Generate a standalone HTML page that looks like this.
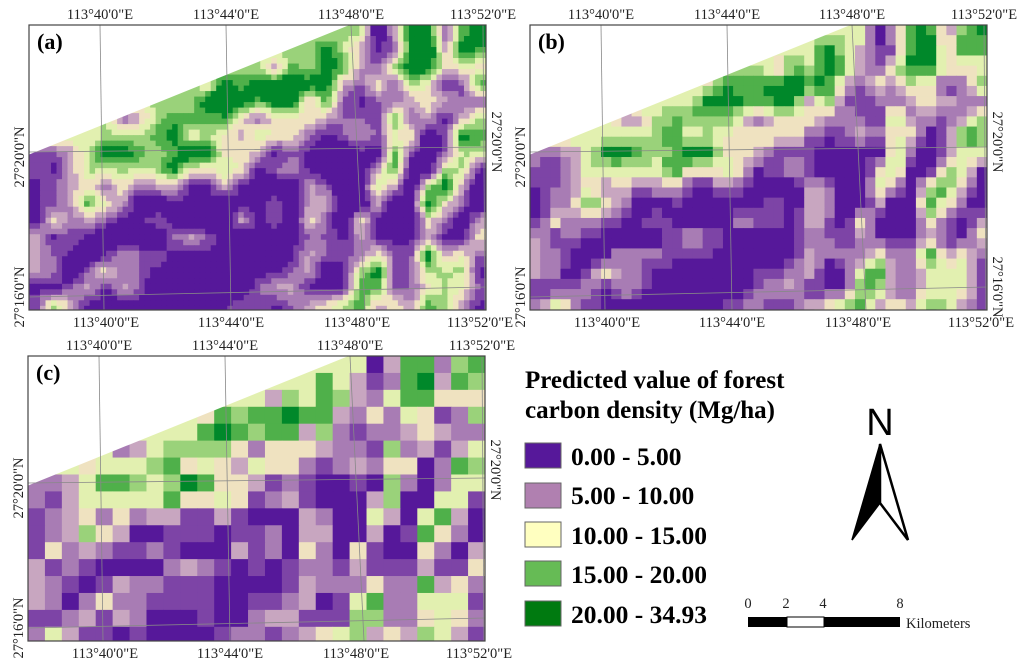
<!DOCTYPE html>
<html><head><meta charset="utf-8"><style>
html,body{margin:0;padding:0;background:#fff;}
svg{display:block;}
.t{font-family:"Liberation Serif",serif;font-size:14.5px;fill:#222;}
.lg{font-family:"Liberation Serif",serif;font-weight:bold;fill:#000;}
</style></head><body>
<svg id="fig" width="1024" height="669" viewBox="0 0 1024 669" xmlns="http://www.w3.org/2000/svg">
<g id="maps"></g>
<g>
<text class="lg" x="525" y="388" font-size="25">Predicted value of forest</text>
<text class="lg" x="525" y="418" font-size="25">carbon density (Mg/ha)</text>
<rect x="525" y="443" width="36" height="25" fill="#56189a" stroke="#666"/>
<text class="lg" x="571" y="465" font-size="25.5">0.00 - 5.00</text>
<rect x="525" y="483" width="36" height="25" fill="#b080b0" stroke="#666"/>
<text class="lg" x="571" y="504" font-size="25.5">5.00 - 10.00</text>
<rect x="525" y="522" width="36" height="25" fill="#ffffc0" stroke="#666"/>
<text class="lg" x="571" y="544" font-size="25.5">10.00 - 15.00</text>
<rect x="525" y="561" width="36" height="25" fill="#66bb55" stroke="#666"/>
<text class="lg" x="571" y="583" font-size="25.5">15.00 - 20.00</text>
<rect x="525" y="601" width="36" height="25" fill="#007a10" stroke="#666"/>
<text class="lg" x="571" y="623" font-size="25.5">20.00 - 34.93</text>
</g>
<g>
<text x="880" y="435" font-family="Liberation Sans,sans-serif" font-size="38" text-anchor="middle">N</text>
<polygon points="880,444 852,540 880,503" fill="#000" stroke="#000" stroke-width="1.5"/>
<polygon points="880,444 908,540 880,503" fill="#fff" stroke="#000" stroke-width="2.5"/>
</g>
<g>
<rect x="748" y="617" width="39" height="10" fill="#000"/>
<rect x="787" y="617" width="37" height="10" fill="#fff" stroke="#000"/>
<rect x="824" y="617" width="76" height="10" fill="#000"/>
<text class="t" x="748" y="608" font-size="19" text-anchor="middle">0</text>
<text class="t" x="786" y="608" font-size="19" text-anchor="middle">2</text>
<text class="t" x="823" y="608" font-size="19" text-anchor="middle">4</text>
<text class="t" x="900" y="608" font-size="19" text-anchor="middle">8</text>
<text class="t" x="906" y="628" font-size="17">Kilometers</text>
</g>
</svg>
<script>
const classColors = ["#e2f0b0","#56189a","#7d44a6","#a87cb4","#c8a6c0","#efe2c0","#e2f0b0","#9ad27a","#4fb04a","#00882a"];
const coarseGrid = [
"000000000000000000061488378",
"000000000000000008642389487",
"000000000000004768743688555",
"000000000058788988435365237",
"000000000689878847323345433",
"000003467777535554332734246",
"000566678565465532343551387",
"334688767985542321121731366",
"324666668556523421114711662",
"234535344224211143116416841",
"234754112221223144114128531",
"253432232111423153152115314",
"423211113432121233242224225",
"432124332221111243335338453",
"431353322221122341268336662",
"223424311121134422277335653",
"364221211112332345674547642"
];
const topTicks = ["113°40'0\"E","113°44'0\"E","113°48'0\"E","113°52'0\"E"];
const latTicks = ["27°20'0\"N","27°16'0\"N"];
const panelLabels = ["(a)","(b)","(c)"];
const panelCols = [83, 45, 27];
const panelContrast = [1.4, 1.25, 1];

const NS="http://www.w3.org/2000/svg";
const maps=document.getElementById('maps');
const W=457,H=285,C=17;
function val(r,c){r=Math.max(0,Math.min(coarseGrid.length-1,r));c=Math.max(0,Math.min(26,c));let v=+coarseGrid[r][c];return v===0?6:v;}
function sample(x,y){const gx=x/C-0.5,gy=y/C-0.5;const c0=Math.floor(gx),r0=Math.floor(gy);const fx=gx-c0,fy=gy-r0;
return val(r0,c0)*(1-fx)*(1-fy)+val(r0,c0+1)*fx*(1-fy)+val(r0+1,c0)*(1-fx)*fy+val(r0+1,c0+1)*fx*fy;}
const origins=[[29,25],[530,25],[28,356]];
function mk(tag,attrs,parent){const e=document.createElementNS(NS,tag);for(const k in attrs)e.setAttribute(k,attrs[k]);parent.appendChild(e);return e;}
origins.forEach((o,p)=>{
  const g=mk('g',{transform:`translate(${o[0]},${o[1]})`},maps);
  
  
  const n=panelCols[p];const cs=W/n;const rows=Math.ceil(H/cs);
  for(let r=0;r<rows;r++)for(let c=0;c<n;c++){
    let v;
    if(p===2){v=+coarseGrid[Math.min(r,16)][c];if(v===0)v=6;}
    else{const s=sample((c+0.5)*cs,(r+0.5)*cs);v=Math.max(1,Math.min(9,Math.round(4.3+(s-4.3)*panelContrast[p])));}
    const rc=mk('rect',{x:(c*cs).toFixed(2),y:(r*cs).toFixed(2),width:(cs+0.4).toFixed(2),height:(Math.min(cs,H-r*cs)+0.4).toFixed(2),fill:classColors[v]},g);
    
    
  }
  const m=mk('polygon',{points:`-1,-1 323,-1 -1,130`,fill:'#fff'},g);
  
  
  const gx=[[71,75],[197,202],[322,336],[454,456]];
  gx.forEach(l=>{const ln=mk('line',{x1:l[0],y1:0,x2:l[1],y2:H,stroke:'#888','stroke-width':0.8},g);
    
    });
  [[127,122],[272,262]].forEach(l=>{const ln=mk('line',{x1:0,y1:l[0],x2:W,y2:l[1],stroke:'#888','stroke-width':0.8},g);
    
    });
  const fr=mk('rect',{x:0,y:0,width:W,height:H,fill:'none',stroke:'#444','stroke-width':1.2},g);
  
  
  const lb=mk('text',{x:8,y:24,'font-family':'Liberation Serif,serif','font-weight':'bold','font-size':22,fill:'#000'},g);
  lb.textContent=panelLabels[p];
  
  
  const topX=[71,197,322,454],botX=[77,202,328,451];
  topTicks.forEach((t,i)=>{
    const a=mk('text',{class:'t',x:topX[i],y:-6,'text-anchor':'middle'},g);a.textContent=t;
    
    
    const b=mk('text',{class:'t',x:botX[i],y:H+17,'text-anchor':'middle'},g);b.textContent=t;
    
    
  });
  [[132,latTicks[0]],[272,latTicks[1]]].forEach(q=>{
    const a=mk('text',{class:'t','text-anchor':'middle',transform:`translate(-5,${q[0]}) rotate(-90)`},g);a.textContent=q[1];
    
    
  });
  const rl=mk('text',{class:'t','text-anchor':'middle',transform:`translate(${W+6},${p===2?114:117}) rotate(90)`},g);rl.textContent=latTicks[0];
  
  
  if(p===1){const r2=mk('text',{class:'t','text-anchor':'middle',transform:`translate(${W+6},262) rotate(90)`},g);r2.textContent=latTicks[1];
  
  }
});
</script>
</body></html>
